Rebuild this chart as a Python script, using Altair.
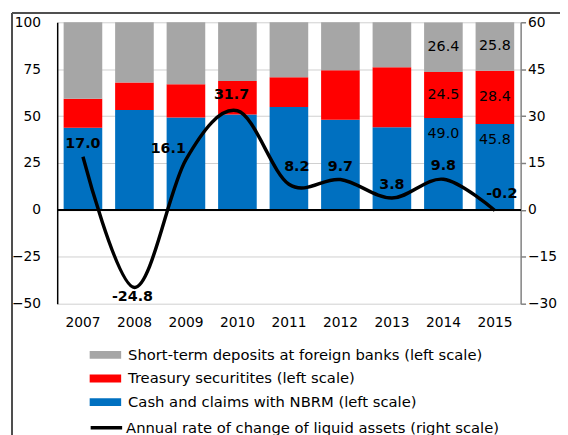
import altair as alt
import pandas as pd

FONT = "DejaVu Sans"

years = [2007, 2008, 2009, 2010, 2011, 2012, 2013, 2014, 2015]
cash = [43.8, 53.2, 49.2, 50.8, 54.8, 48.0, 44.1, 49.0, 45.8]
treasury = [15.4, 14.7, 17.8, 17.9, 15.9, 26.5, 32.0, 24.5, 28.4]
deposits = [40.8, 32.1, 33.0, 31.3, 29.3, 25.5, 23.9, 26.4, 25.8]
growth = [17.0, -24.8, 16.1, 31.7, 8.2, 9.7, 3.8, 9.8, -0.2]
labelled_years = [2014, 2015]

series_names = [
    "Short-term deposits at foreign banks (left scale)",
    "Treasury securitites (left scale)",
    "Cash and claims with NBRM (left scale)",
]
series_colors = ["#A6A6A6", "#FF0000", "#0070C0"]
line_name = "Annual rate of change of liquid assets (right scale)"

rows = []
for i, yr in enumerate(years):
    c_hi = cash[i]
    t_hi = c_hi + treasury[i]
    d_hi = t_hi + deposits[i]
    rows.append(dict(year=str(yr), series=series_names[2], lo=0.0, hi=c_hi,
                     val=cash[i], mid=c_hi, pos="top", show=yr in labelled_years))
    rows.append(dict(year=str(yr), series=series_names[1], lo=c_hi, hi=t_hi,
                     val=treasury[i], mid=(c_hi + t_hi) / 2, pos="mid", show=yr in labelled_years))
    rows.append(dict(year=str(yr), series=series_names[0], lo=t_hi, hi=d_hi,
                     val=deposits[i], mid=(t_hi + d_hi) / 2, pos="mid", show=yr in labelled_years))
bar_df = pd.DataFrame(rows)
bar_df["txt"] = bar_df["val"].map(lambda v: f"{v:.1f}")

line_df = pd.DataFrame({"year": [str(y) for y in years], "growth": growth,
                        "series": line_name})
line_df["txt"] = line_df["growth"].map(lambda v: f"{v:.1f}")

TICK_FS = 14
LEG_FS = 15
LAB_FS = 14.5

x_enc = alt.X("year:N", sort=[str(y) for y in years],
              scale=alt.Scale(paddingInner=0.25, paddingOuter=0.125),
              axis=alt.Axis(title=None, labelAngle=0, domain=False, ticks=False,
                            labelPadding=12, labelFontSize=TICK_FS, labelFont=FONT,
                            labelColor="black"))

left_scale = alt.Scale(domain=[-50, 100], nice=False, zero=False)
left_axis = alt.Axis(title=None, values=[-50, -25, 0, 25, 50, 75, 100], grid=True,
                     gridColor="#cfcfcf", gridWidth=1, ticks=False, labelPadding=17,
                     domainColor="black", domainWidth=1.5, labelFontSize=TICK_FS,
                     labelFont=FONT, labelColor="black")

right_scale = alt.Scale(domain=[-30, 60], nice=False, zero=False)
right_axis = alt.Axis(title=None, orient="right", values=[-30, -15, 0, 15, 30, 45, 60],
                      grid=False, tickSize=5, tickColor="#808080", domainColor="#808080",
                      domainWidth=1.5, tickWidth=1.5, labelPadding=2, labelFontSize=TICK_FS,
                      labelFont=FONT, labelColor="black")

bars = alt.Chart(bar_df).mark_bar().encode(
    x=x_enc,
    y=alt.Y("lo:Q", scale=left_scale, axis=left_axis),
    y2="hi:Q",
    fill=alt.Fill("series:N", scale=alt.Scale(domain=series_names, range=series_colors),
                  legend=alt.Legend(title=None, orient="none", legendX=33, legendY=322,
                                    symbolType="M-1,-0.25L1,-0.25L1,0.25L-1,0.25Z",
                                    symbolSize=1024, symbolStrokeWidth=0,
                                    labelFont=FONT, labelFontSize=LEG_FS, labelColor="black",
                                    labelOffset=7, rowPadding=0, labelLimit=500)),
)

zero = alt.Chart(bar_df).mark_rule(color="black", strokeWidth=1.5).encode(
    y=alt.datum(0, scale=left_scale)
)

label_mid = alt.Chart(bar_df).transform_filter(
    "datum.show && datum.pos == 'mid'"
).mark_text(font=FONT, fontSize=LAB_FS, color="black", baseline="middle").encode(
    x=x_enc, y=alt.Y("mid:Q", scale=left_scale, axis=left_axis), text="txt:N"
)
label_top = alt.Chart(bar_df).transform_filter(
    "datum.show && datum.pos == 'top'"
).mark_text(font=FONT, fontSize=LAB_FS, color="black", baseline="middle", dy=16).encode(
    x=x_enc, y=alt.Y("mid:Q", scale=left_scale, axis=left_axis), text="txt:N"
)

frame_v = alt.Chart(bar_df).mark_rule(color="#505050", strokeWidth=1.3).encode(
    x=alt.value(-46), y=alt.value(-9), y2=alt.value(440)
)
frame_h = alt.Chart(bar_df).mark_rule(color="#505050", strokeWidth=1.3).encode(
    x=alt.value(-46), x2=alt.value(540), y=alt.value(-9)
)

left = alt.layer(bars, zero, label_mid, label_top, frame_v, frame_h)

y_right = alt.Y("growth:Q", scale=right_scale, axis=right_axis)

line = alt.Chart(line_df).mark_line(interpolate="cardinal", strokeWidth=3.5).encode(
    x=x_enc, y=y_right,
    stroke=alt.Stroke("series:N", scale=alt.Scale(domain=[line_name], range=["black"]),
                      legend=alt.Legend(title=None, orient="none", legendX=32, legendY=394,
                                        symbolType="stroke", symbolSize=1024,
                                        symbolStrokeWidth=3.5, labelFont=FONT,
                                        labelFontSize=LEG_FS, labelColor="black",
                                        labelOffset=2, labelLimit=500)),
)


def line_labels(sel, dx=0, dy=-13):
    return alt.Chart(line_df).transform_filter(
        alt.FieldOneOfPredicate(field="year", oneOf=[str(s) for s in sel])
    ).mark_text(font=FONT, fontSize=LAB_FS, fontWeight="bold", color="black",
                baseline="middle", dx=dx, dy=dy).encode(
        x=x_enc, y=y_right, text="txt:N"
    )


right = alt.layer(
    line,
    line_labels([2007, 2012, 2013, 2014], dx=0, dy=-13),
    line_labels([2010], dx=-6, dy=-16),
    line_labels([2011], dx=8, dy=-17),
    line_labels([2008], dx=-2, dy=10),
    line_labels([2009], dx=-18, dy=-11),
    line_labels([2015], dx=7, dy=-17),
)

chart = alt.layer(left, right).resolve_scale(y="independent").properties(
    width=471, height=286,
    padding={"left": 50, "top": 11, "right": 40, "bottom": 135},
    autosize=alt.AutoSizeParams(type="none"),
    background="white",
).configure_view(stroke=None)

chart.save("out.html", embed_options={"renderer": "svg", "actions": False})
